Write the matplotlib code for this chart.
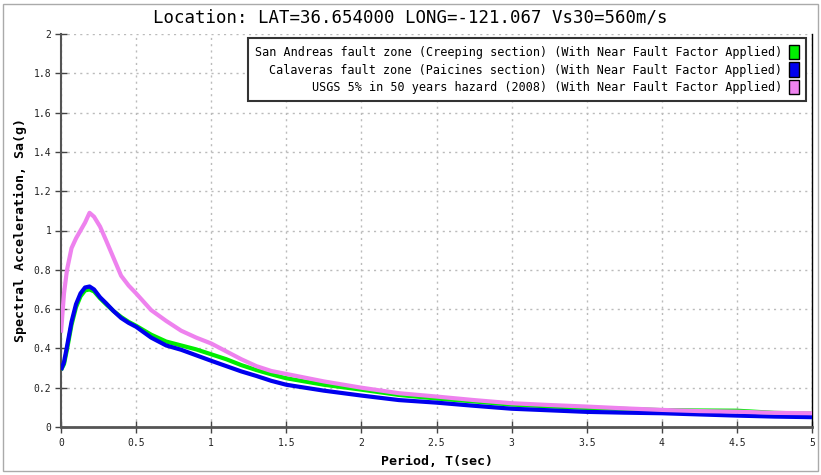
import matplotlib
matplotlib.use("Agg")
import matplotlib.pyplot as plt
from matplotlib.patches import Patch, Rectangle

# Spectral acceleration curves
period = [0, 0.02, 0.04, 0.07, 0.1, 0.13, 0.16, 0.19, 0.22, 0.26, 0.3, 0.35,
          0.4, 0.45, 0.5, 0.6, 0.7, 0.8, 0.9, 1.0, 1.1, 1.2, 1.3, 1.4, 1.5,
          1.75, 2.0, 2.25, 2.5, 2.75, 3.0, 3.25, 3.5, 3.75, 4.0, 4.25, 4.5,
          4.75, 5.0]

san_andreas = [0.29, 0.32, 0.395, 0.52, 0.61, 0.665, 0.695, 0.70, 0.69, 0.655,
               0.625, 0.59, 0.56, 0.535, 0.515, 0.47, 0.435, 0.415, 0.395, 0.37,
               0.345, 0.315, 0.29, 0.268, 0.248, 0.215, 0.19, 0.163, 0.145,
               0.13, 0.114, 0.105, 0.097, 0.092, 0.086, 0.084, 0.083, 0.072,
               0.068]

calaveras = [0.29, 0.33, 0.41, 0.535, 0.625, 0.68, 0.71, 0.715, 0.70, 0.66,
             0.63, 0.59, 0.555, 0.53, 0.51, 0.455, 0.415, 0.393, 0.365, 0.337,
             0.31, 0.283, 0.26, 0.235, 0.215, 0.185, 0.16, 0.137, 0.124,
             0.108, 0.093, 0.085, 0.077, 0.073, 0.07, 0.064, 0.058, 0.053,
             0.05]

usgs = [0.48, 0.68, 0.80, 0.91, 0.96, 1.00, 1.04, 1.09, 1.07, 1.02, 0.95,
        0.86, 0.77, 0.72, 0.68, 0.595, 0.54, 0.49, 0.455, 0.425, 0.385, 0.345,
        0.31, 0.285, 0.27, 0.232, 0.20, 0.172, 0.155, 0.137, 0.121, 0.112,
        0.104, 0.095, 0.087, 0.081, 0.078, 0.072, 0.07]

labels = [
    "San Andreas fault zone (Creeping section) (With Near Fault Factor Applied)",
    "Calaveras fault zone (Paicines section) (With Near Fault Factor Applied)",
    "USGS 5% in 50 years hazard (2008) (With Near Fault Factor Applied)",
]
colors = ["#00ee00", "#0000ee", "#ee82ee"]

x_ticks = [0, 0.5, 1, 1.5, 2, 2.5, 3, 3.5, 4, 4.5, 5]
y_ticks = [0, 0.2, 0.4, 0.6, 0.8, 1.0, 1.2, 1.4, 1.6, 1.8, 2.0]

plt.rcParams['font.family'] = ['DejaVu Sans Mono']

fig = plt.figure(figsize=(8.21, 4.75), dpi=100)
ax = fig.add_axes([61 / 821, 1 - 427 / 475, 751 / 821, 393 / 475])

for series, color in zip([san_andreas, calaveras, usgs], colors):
    ax.plot(period, series, color=color, linewidth=3, solid_capstyle='butt', zorder=3)

ax.set_xlim(0, 5)
ax.set_ylim(0, 2)
ax.set_xticks(x_ticks)
ax.set_xticklabels([f"{t:g}" for t in x_ticks])
ax.set_yticks(y_ticks)
ax.set_yticklabels([f"{t:g}" for t in y_ticks])
ax.tick_params(axis='both', direction='inout', length=8, width=1,
               color='#444444', labelsize=7, labelcolor='#222222')
ax.tick_params(axis='x', pad=4)
ax.tick_params(axis='y', pad=3)

ax.grid(True, linestyle=(0, (1.5, 3)), color='#bbbbbb', linewidth=1, zorder=0)

ax.spines['top'].set_visible(False)
ax.spines['left'].set_color('#555555')
ax.spines['left'].set_linewidth(1.5)
ax.spines['bottom'].set_color('#555555')
ax.spines['bottom'].set_linewidth(2)
ax.spines['right'].set_color('black')
ax.spines['right'].set_linewidth(1)

ax.set_xlabel("Period, T(sec)", fontsize=9.5, fontweight='bold', labelpad=5)
ax.set_ylabel("Spectral Acceleration, Sa(g)", fontsize=9.5, fontweight='bold', labelpad=5)

fig.text(0.5, 1 - 17 / 475, "Location: LAT=36.654000 LONG=-121.067 Vs30=560m/s",
         ha='center', va='center', fontsize=12.5)

handles = [Patch(facecolor=c, edgecolor='black', linewidth=1) for c in colors]
legend = ax.legend(handles, labels, loc='upper right',
                   bbox_to_anchor=(806 / 821, 1 - 38 / 475),
                   bbox_transform=fig.transFigure, borderaxespad=0,
                   markerfirst=False, fontsize=8.5, fancybox=False,
                   framealpha=1, edgecolor='#333333', handlelength=0.8,
                   handleheight=1.5, handletextpad=0.6, labelspacing=0.25,
                   borderpad=0.6)
legend.get_frame().set_linewidth(1.5)

# grey frame round the whole image
fig.patches.append(Rectangle((3 / 821, 4 / 475), 815 / 821, 467 / 475,
                             transform=fig.transFigure, fill=False,
                             edgecolor='#aaaaaa', linewidth=1))

fig.savefig("out.png", dpi=100)
plt.close(fig)
